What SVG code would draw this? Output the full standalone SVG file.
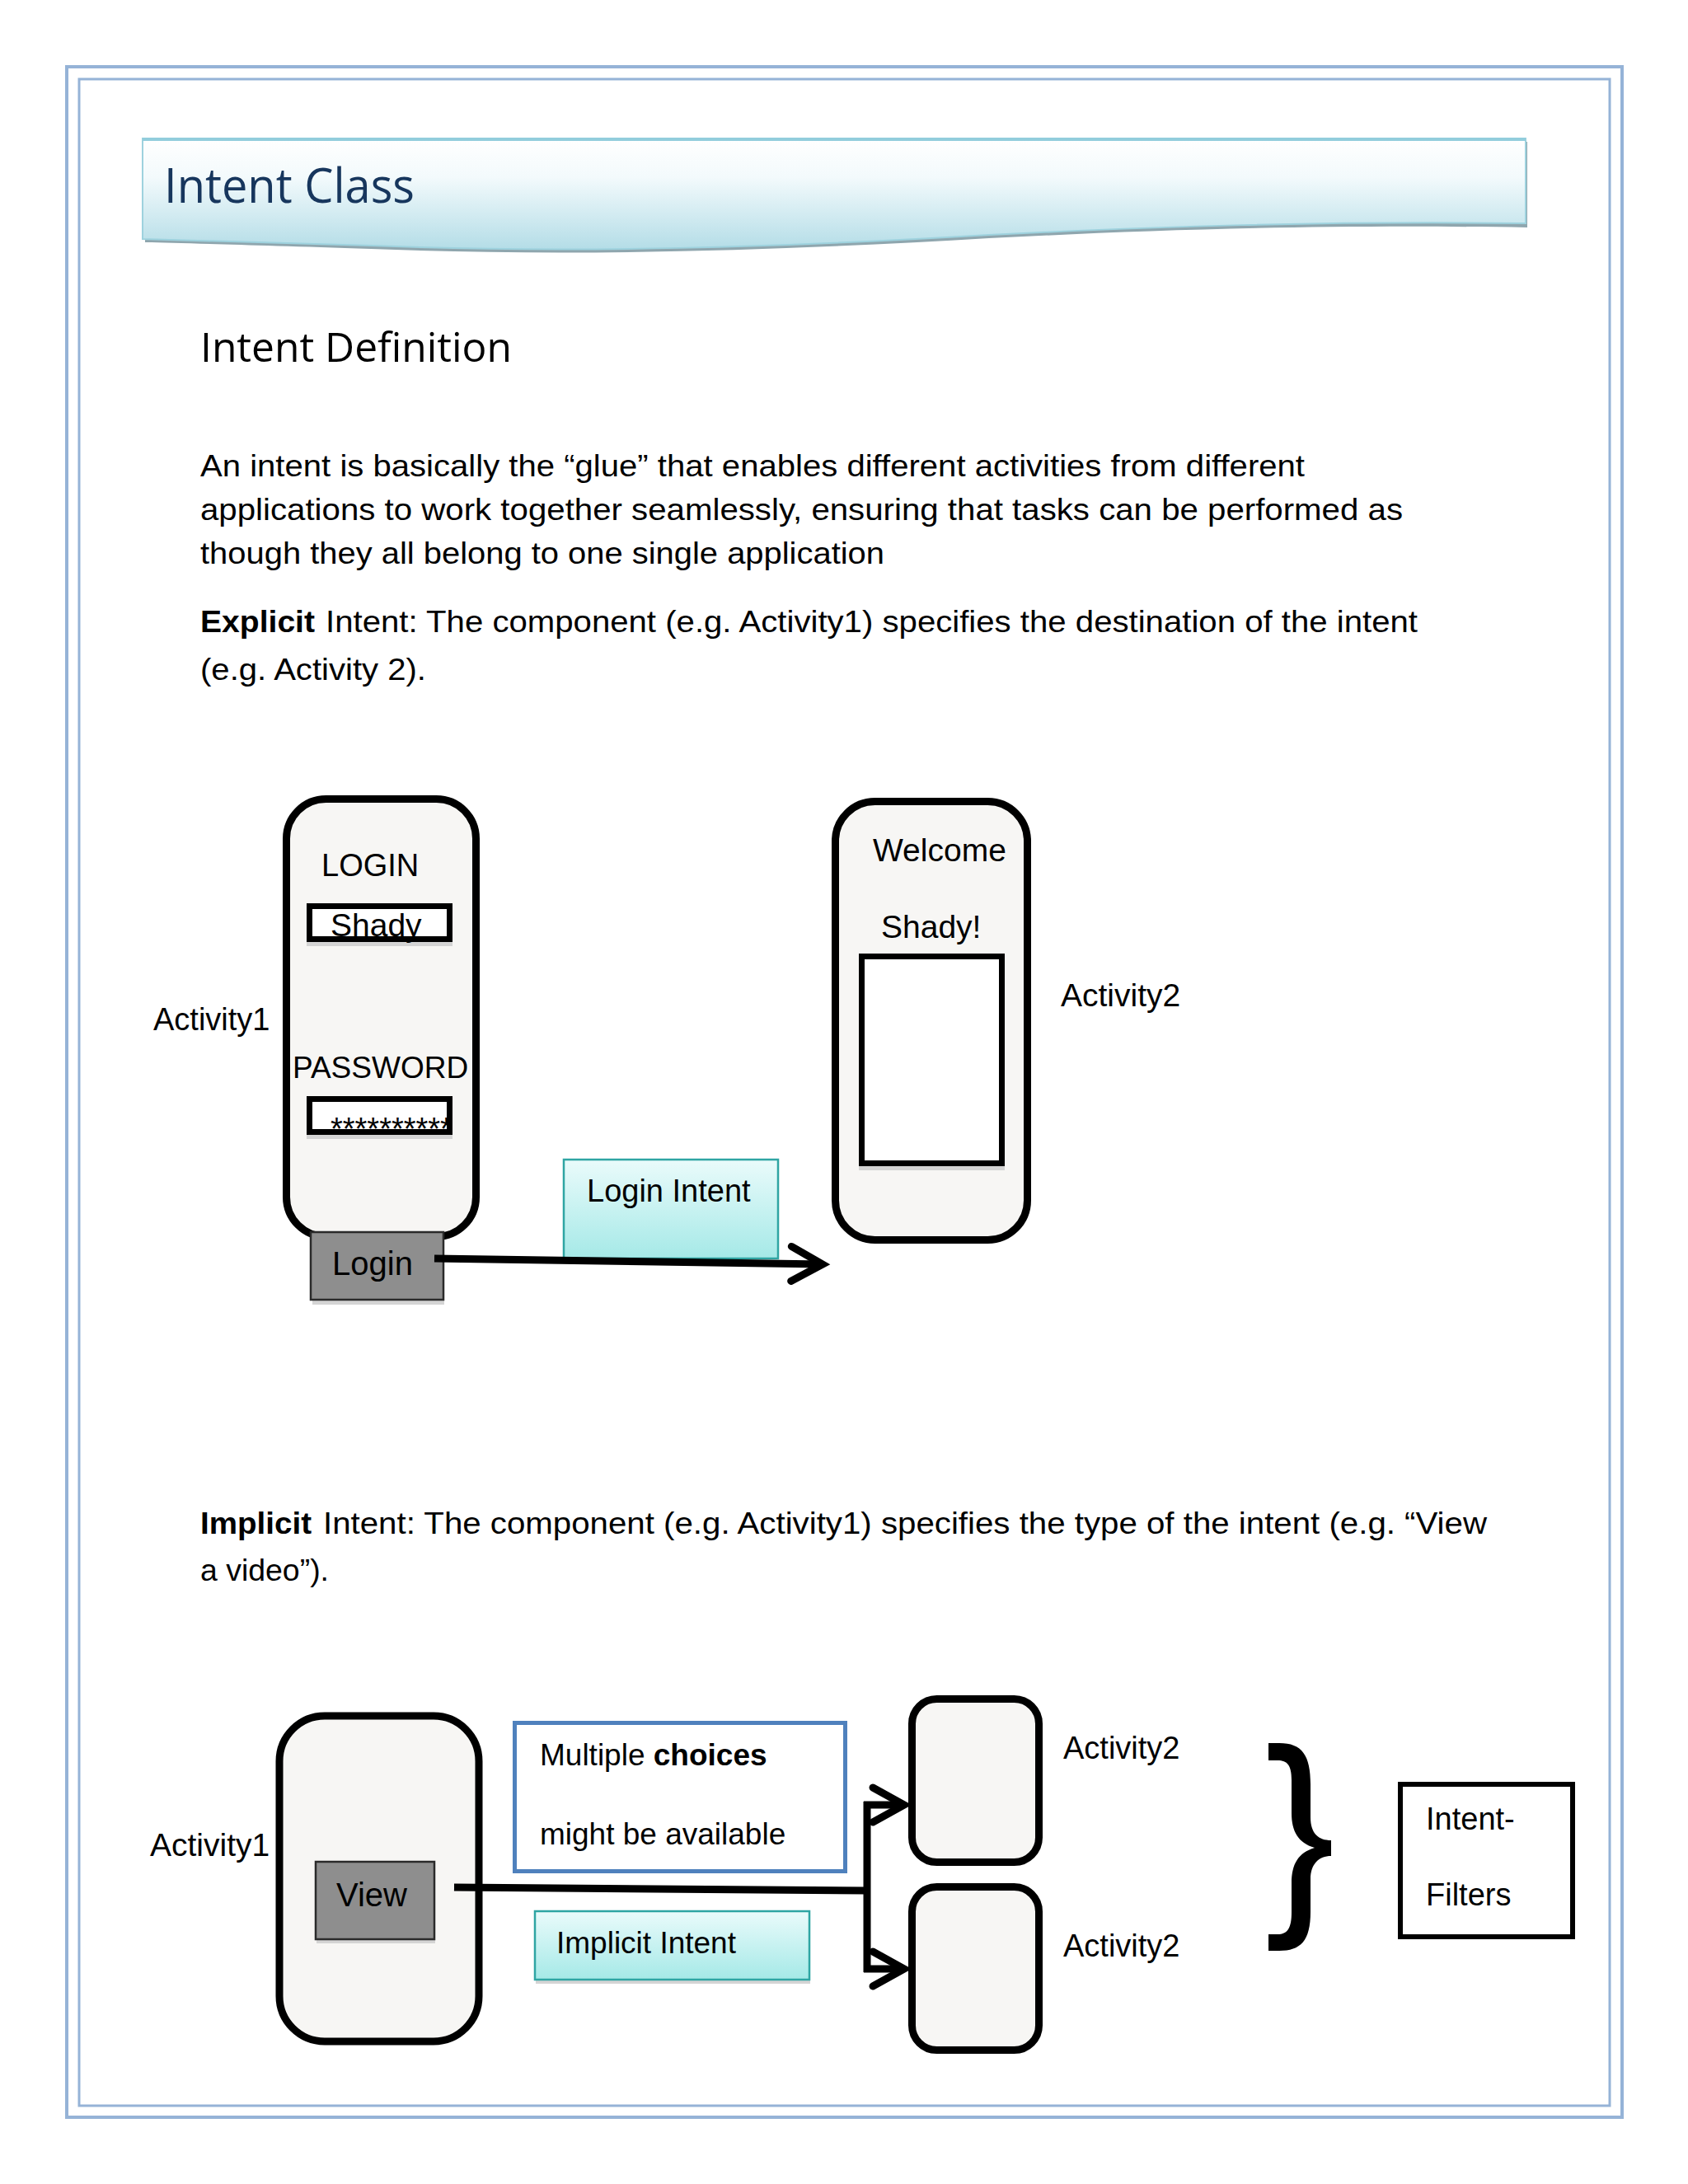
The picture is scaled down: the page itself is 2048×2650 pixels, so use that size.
<svg xmlns="http://www.w3.org/2000/svg" width="2048" height="2650" viewBox="0 0 2048 2650">
<style>
.t{font-family:"Liberation Sans",Arial,sans-serif;fill:#000}
.b{font-weight:bold}
.phone{fill:#F7F6F4;stroke:#000;stroke-width:9}
.field{fill:#fff;stroke:#000;stroke-width:7}
.btn{fill:#8E8E8E;stroke:#2a2a2a;stroke-width:2.5}
.intent{fill:url(#cyan);stroke:#2FA5A3;stroke-width:2.5}
.shadow{fill:#D4D4D4}
.conn{fill:none;stroke:#000;stroke-width:9}
.arr{marker-end:url(#chev)}
</style>
<defs>
<linearGradient id="banner" x1="0" y1="0" x2="0" y2="1">
<stop offset="0" stop-color="#FFFFFF"/>
<stop offset="0.35" stop-color="#F3FAFC"/>
<stop offset="1" stop-color="#B4DDE7"/>
</linearGradient>
<linearGradient id="cyan" x1="0" y1="0" x2="0" y2="1">
<stop offset="0" stop-color="#EAFBFB"/>
<stop offset="1" stop-color="#A5E9E7"/>
</linearGradient>
<marker id="chev" markerUnits="userSpaceOnUse" markerWidth="70" markerHeight="70" viewBox="-50 -35 70 70" refX="0" refY="0" orient="auto" overflow="visible">
<path d="M-38,-21 L0,0 L-38,21" fill="none" stroke="#000" stroke-width="9" stroke-linecap="round"/>
</marker>
<clipPath id="pwclip"><rect x="379" y="1337" width="166" height="33"/></clipPath>
</defs>

<rect width="2048" height="2650" fill="#fff"/>

<g id="page-border" fill="none" stroke="#95B3D7">
<rect x="81" y="81" width="1887" height="2488" stroke-width="4"/>
<rect x="96" y="96" width="1857" height="2459" stroke-width="3"/>
</g>

<g id="banner-header">
<path d="M176,172 H1853 V276 C1600,272 1400,279 1200,289 C950,304 700,312 450,302 C300,297 220,295 176,294 Z" fill="#8FA6AE"/>
<path d="M173,168 H1851 V271 C1600,268 1400,275 1200,285 C950,300 700,308 450,298 C300,293 220,291 173,290 Z" fill="url(#banner)" stroke="#9ED2DE" stroke-width="2"/>
<line x1="173" y1="169" x2="1851" y2="169" stroke="#92CDDC" stroke-width="4"/>
<text x="199" y="246" font-family="'Open Sans','Noto Sans',sans-serif" font-size="58" fill="#17365D" textLength="304" lengthAdjust="spacingAndGlyphs">Intent Class</text>
</g>

<g id="body-text">
<text x="243" y="439" font-family="'Open Sans','Noto Sans',sans-serif" font-size="50" fill="#000" textLength="378" lengthAdjust="spacingAndGlyphs">Intent Definition</text>
<text class="t" x="243" y="578" font-size="37" textLength="1340" lengthAdjust="spacingAndGlyphs">An intent is basically the “glue” that enables different activities from different</text>
<text class="t" x="243" y="631" font-size="37" textLength="1459" lengthAdjust="spacingAndGlyphs">applications to work together seamlessly, ensuring that tasks can be performed as</text>
<text class="t" x="243" y="684" font-size="37" textLength="830" lengthAdjust="spacingAndGlyphs">though they all belong to one single application</text>
<text class="t b" x="243" y="767" font-size="37" textLength="139" lengthAdjust="spacingAndGlyphs">Explicit</text>
<text class="t" x="395" y="767" font-size="37" textLength="1325" lengthAdjust="spacingAndGlyphs">Intent:  The component (e.g. Activity1) specifies the destination of the intent</text>
<text class="t" x="243" y="825" font-size="37" textLength="274" lengthAdjust="spacingAndGlyphs">(e.g. Activity 2).</text>
<text class="t b" x="243" y="1861" font-size="37" textLength="135" lengthAdjust="spacingAndGlyphs">Implicit</text>
<text class="t" x="392" y="1861" font-size="37" textLength="1412" lengthAdjust="spacingAndGlyphs">Intent:  The component (e.g. Activity1) specifies the type of the intent (e.g. “View</text>
<text class="t" x="243" y="1918" font-size="37" textLength="156" lengthAdjust="spacingAndGlyphs">a video”).</text>
</g>

<g id="activity1-top">
<rect class="phone" x="347.5" y="969.5" width="230" height="531" rx="48"/>
<text class="t" x="390" y="1063" font-size="38">LOGIN</text>
<rect class="shadow" x="372" y="1143" width="177" height="5"/>
<rect class="field" x="375.5" y="1099.5" width="170" height="40"/>
<text class="t" x="401" y="1136" font-size="39">Shady</text>
<text class="t" x="355" y="1308" font-size="37">PASSWORD</text>
<rect class="shadow" x="372" y="1377" width="177" height="5"/>
<rect class="field" x="375.5" y="1333.5" width="170" height="40"/>
<text class="t" x="401" y="1383" font-size="38" clip-path="url(#pwclip)">***********</text>
<text class="t" x="186" y="1250" font-size="38">Activity1</text>
</g>

<g id="login-button">
<rect class="shadow" x="379" y="1578" width="160" height="5"/>
<rect class="btn" x="377" y="1495" width="161" height="82"/>
<text class="t" x="403" y="1547" font-size="40" fill="#111">Login</text>
</g>

<g id="login-intent">
<rect class="intent" x="684" y="1407" width="260" height="120"/>
<text class="t" x="712" y="1458" font-size="38">Login Intent</text>
</g>

<g id="activity2-top">
<rect class="phone" x="1013.5" y="972.5" width="233" height="532" rx="48"/>
<text class="t" x="1059" y="1045" font-size="39">Welcome</text>
<text class="t" x="1069" y="1138" font-size="39">Shady!</text>
<rect class="shadow" x="1042" y="1415" width="177" height="5"/>
<rect class="field" x="1045.5" y="1160.5" width="170" height="251"/>
<text class="t" x="1287" y="1221" font-size="39">Activity2</text>
</g>

<g id="activity1-bottom">
<rect class="phone" x="339" y="2082" width="242" height="395" rx="55" stroke-width="10"/>
<text class="t" x="182" y="2252" font-size="39">Activity1</text>
</g>

<g id="view-button">
<rect class="shadow" x="384" y="2353" width="144" height="5"/>
<rect class="btn" x="383" y="2259" width="144" height="94"/>
<text class="t" x="408" y="2313" font-size="40" fill="#111">View</text>
</g>

<g id="multiple-choices">
<rect x="624.5" y="2090.5" width="401" height="180" fill="#fff" stroke="#4F81BD" stroke-width="5"/>
<text class="t" x="655" y="2142" font-size="37">Multiple <tspan class="b">choices</tspan></text>
<text class="t" x="655" y="2238" font-size="37">might be available</text>
</g>

<g id="implicit-intent">
<rect class="shadow" x="650" y="2402" width="333" height="5"/>
<rect class="intent" x="649" y="2319" width="333" height="83"/>
<text class="t" x="675" y="2370" font-size="37">Implicit Intent</text>
</g>

<g id="activity2-a">
<rect class="phone" x="1106.5" y="2061.5" width="154" height="198" rx="30"/>
<text class="t" x="1290" y="2134" font-size="38">Activity2</text>
</g>

<g id="activity2-b">
<rect class="phone" x="1106.5" y="2289.5" width="154" height="198" rx="30"/>
<text class="t" x="1290" y="2374" font-size="38">Activity2</text>
</g>

<g id="brace">
<path d="M1539,2115 L1552,2115 C1580,2115 1590,2130 1590,2165 L1590,2205 C1590,2225 1600,2233 1615,2233 L1615,2252 C1600,2252 1590,2262 1590,2280 L1590,2320 C1590,2355 1578,2367 1552,2367 L1539,2367 L1539,2347 L1550,2347 C1562,2347 1567,2340 1567,2320 L1567,2285 C1567,2262 1575,2248 1595,2242 C1575,2236 1567,2222 1567,2200 L1567,2160 C1567,2142 1562,2136 1550,2136 L1539,2136 Z" fill="#000"/>
</g>

<g id="intent-filters">
<rect x="1699" y="2165" width="209" height="185" fill="#fff" stroke="#000" stroke-width="6"/>
<text class="t" x="1730" y="2220" font-size="38">Intent-</text>
<text class="t" x="1730" y="2312" font-size="38">Filters</text>
</g>

<g id="connectors">
<path class="conn arr" d="M527,1527 L998,1534"/>
<path class="conn" d="M551,2290 L1052,2294"/>
<path class="conn" d="M1052,2186 V2393"/>
<path class="conn arr" d="M1048,2190 H1097"/>
<path class="conn arr" d="M1048,2389 H1097"/>
</g>
</svg>
